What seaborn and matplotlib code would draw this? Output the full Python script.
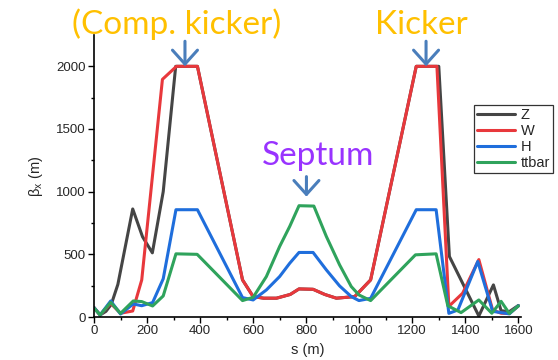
import numpy as np
import pandas as pd
import matplotlib
matplotlib.use("Agg")
import matplotlib.pyplot as plt
import seaborn as sns

# ---- data ----
s_Z = [0, 23, 45, 65, 90, 146, 183, 220, 261, 308, 390, 560, 600, 640, 688, 740, 773, 826, 870, 914, 983, 1043, 1215, 1300, 1340, 1451, 1506, 1535, 1566, 1600]
b_Z = [75, 16, 45, 100, 260, 862, 640, 512, 1000, 2000, 2000, 296, 163, 150, 150, 180, 224, 221, 180, 150, 163, 296, 2000, 2000, 483, 8, 256, 50, 43, 92]

s_W = [0, 23, 62, 100, 146, 180, 258, 311, 390, 560, 600, 640, 688, 740, 773, 826, 870, 914, 983, 1043, 1215, 1293, 1338, 1390, 1451, 1503, 1535, 1566, 1600]
b_W = [75, 16, 110, 30, 48, 296, 1896, 2000, 2000, 296, 163, 150, 150, 180, 224, 221, 180, 150, 163, 296, 2000, 2000, 85, 190, 458, 56, 30, 28, 88]

s_H = [0, 23, 63, 100, 148, 180, 221, 261, 309, 390, 560, 600, 650, 700, 738, 773, 826, 876, 926, 970, 999, 1043, 1215, 1290, 1338, 1372, 1447, 1503, 1535, 1566, 1600]
b_H = [75, 16, 128, 24, 104, 90, 115, 305, 856, 856, 155, 136, 216, 323, 429, 515, 515, 376, 248, 163, 131, 149, 856, 856, 29, 56, 443, 45, 35, 25, 90]

s_T = [0, 23, 63, 100, 148, 180, 221, 261, 309, 389, 560, 600, 650, 700, 738, 773, 829, 876, 926, 970, 999, 1043, 1212, 1290, 1334, 1384, 1451, 1500, 1535, 1566, 1600]
b_T = [72, 16, 117, 29, 128, 123, 88, 168, 504, 500, 131, 157, 323, 563, 723, 888, 885, 643, 416, 243, 176, 131, 496, 504, 90, 35, 136, 30, 125, 28, 88]

modes = ["Z", "W", "H", "ttbar"]
colors = {"Z": "#454545", "W": "#e8383c", "H": "#1f6edc", "ttbar": "#2fa35c"}

frames = []
for name, s, b in [("Z", s_Z, b_Z), ("W", s_W, b_W), ("H", s_H, b_H), ("ttbar", s_T, b_T)]:
    frames.append(pd.DataFrame({"s": s, "beta": b, "mode": name}))
df = pd.concat(frames, ignore_index=True)

sns.set_style("ticks")
plt.rcParams["font.family"] = ["Liberation Sans", "DejaVu Sans"]
plt.rcParams["mathtext.fontset"] = "custom"
plt.rcParams["mathtext.rm"] = "Liberation Sans"

fig = plt.figure(figsize=(5.58, 3.6), dpi=100)
ax = fig.add_axes([94/558, 1-317/360, (521-94)/558, (317-35)/360])

sns.lineplot(data=df, x="s", y="beta", hue="mode", hue_order=modes, palette=colors,
             estimator=None, sort=False, lw=2.2, ax=ax)

ax.set_xlim(0, 1610)
ax.set_ylim(0, 2250)
ax.set_xticks([0, 200, 400, 600, 800, 1000, 1200, 1400, 1600])
ax.set_xticks(np.arange(100, 1600, 200), minor=True)
ax.set_yticks([0, 500, 1000, 1500, 2000])
ax.set_yticks([250, 750, 1250, 1750], minor=True)
ax.tick_params(axis="both", which="major", direction="out", length=4, width=1, labelsize=9.5, pad=2, color="black")
ax.tick_params(axis="both", which="minor", direction="out", length=2.5, width=1, color="black")
for sp in ["top", "right"]:
    ax.spines[sp].set_visible(False)
for sp in ["left", "bottom"]:
    ax.spines[sp].set_linewidth(1.2)
    ax.spines[sp].set_color("black")

ax.set_xlabel("s (m)", fontsize=10.5, labelpad=4)
ax.set_ylabel(r"β$_\mathrm{x}$ (m)", fontsize=10.5, labelpad=8)

leg = ax.legend(loc="upper left", bbox_to_anchor=(474/558, 1-105/360), bbox_transform=fig.transFigure,
                frameon=True, fancybox=False, edgecolor="black", fontsize=10.5,
                handlelength=2.6, handletextpad=0.4, labelspacing=0.15, borderpad=0.2,
                borderaxespad=0)
leg.get_frame().set_linewidth(0.9)
for line in leg.get_lines():
    line.set_linewidth(2.2)

# annotations
ann_font = ["Lato", "DejaVu Sans"]
ax.text(313, 2256, "(Comp. kicker)", color="#FFC000", fontsize=24, ha="center", va="baseline",
        family=ann_font, clip_on=False)
ax.text(1235, 2256, "Kicker", color="#FFC000", fontsize=24, ha="center", va="baseline",
        family=ann_font, clip_on=False)
ax.text(843, 1216, "Septum", color="#9933FF", fontsize=24, ha="center", va="baseline",
        family=ann_font, clip_on=False)

arrow_kw = dict(arrowstyle="->,head_length=0.5,head_width=0.45", color="#4a7ebb", lw=2.2,
                shrinkA=0, shrinkB=0, mutation_scale=20)
ax.annotate("", xy=(343, 2000), xytext=(343, 2200), arrowprops=arrow_kw, annotation_clip=False)
ax.annotate("", xy=(1252, 2000), xytext=(1252, 2200), arrowprops=arrow_kw, annotation_clip=False)
ax.annotate("", xy=(801, 960), xytext=(801, 1120), arrowprops=arrow_kw, annotation_clip=False)

fig.savefig("out.png", dpi=100)
